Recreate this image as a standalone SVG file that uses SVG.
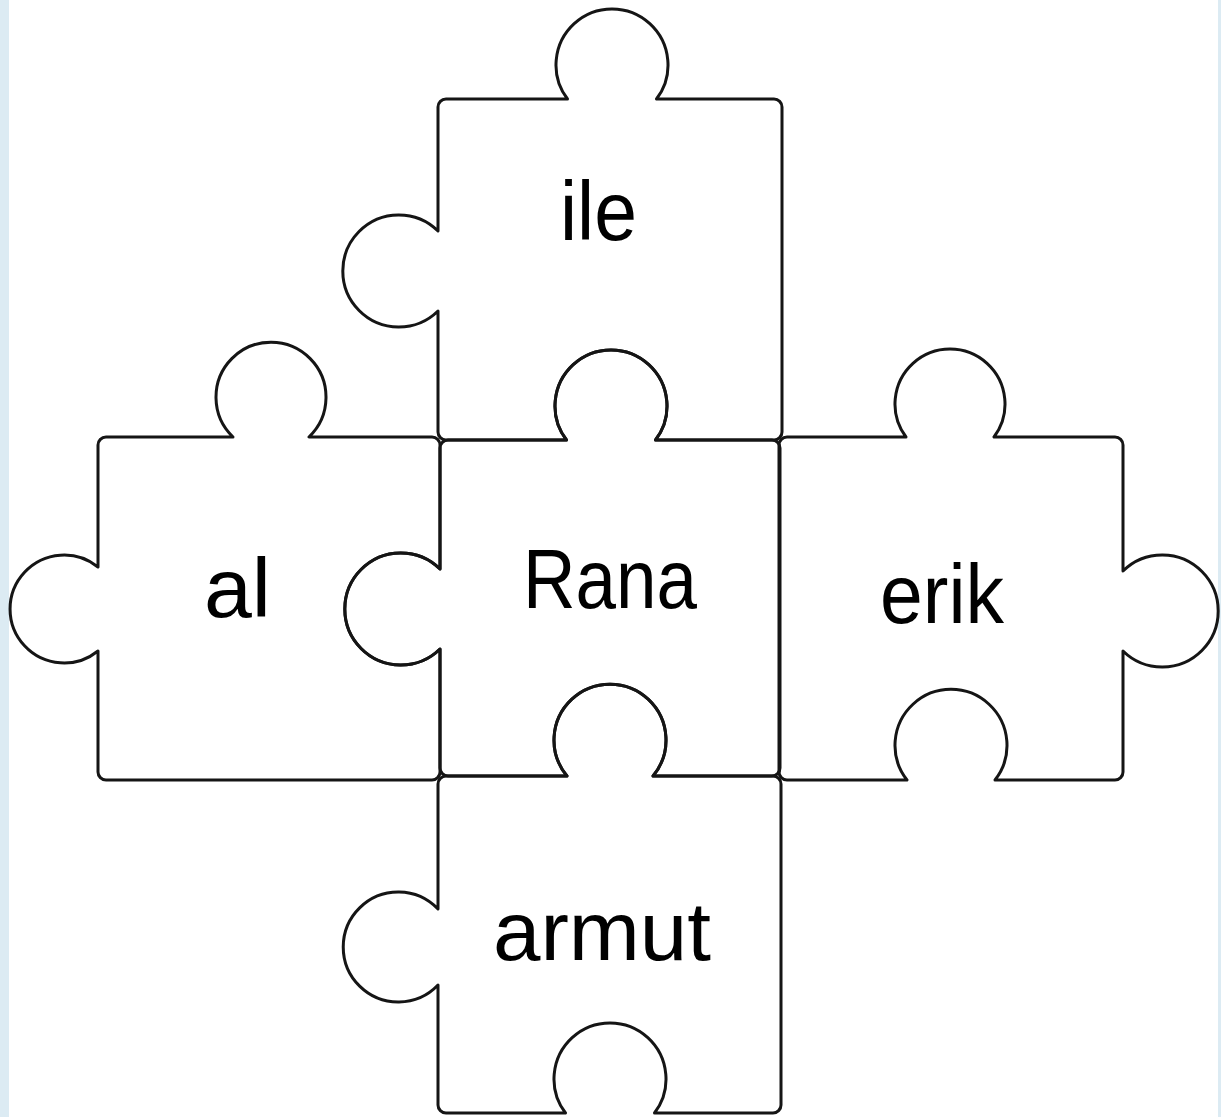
<svg xmlns="http://www.w3.org/2000/svg" width="1221" height="1117" viewBox="0 0 1221 1117">
<style>
.piece{fill:none;stroke:#151515;stroke-width:3;stroke-linejoin:round}
.word{font-family:"Liberation Sans",Arial,sans-serif;font-size:84px;fill:#000}
</style>
<rect x="0" y="0" width="1221" height="1117" fill="#ffffff"/>
<rect x="0" y="0" width="9" height="1117" fill="#dcebf3"/>
<rect x="1218" y="0" width="3" height="1117" fill="#dcebf3"/>
<g id="piece-ile">
<path class="piece" d="M438,107 A8,8 0 0 1 446,99 L567.5,99 A56,56 0 1 1 656.5,99 L774,99 A8,8 0 0 1 782,107 L782,432 A8,8 0 0 1 774,440 L655.5,440 A56,56 0 1 0 566.5,440 L446,440 A8,8 0 0 1 438,432 L438,311 A56,56 0 1 1 438,231 Z"/>
<text class="word" x="560" y="240" textLength="77" lengthAdjust="spacingAndGlyphs">ile</text>
</g>
<g id="piece-al">
<path class="piece" d="M98,445 A8,8 0 0 1 106,437 L233,437 A55,55 0 1 1 309,437 L432,437 A8,8 0 0 1 440,445 L440,569 A56,56 0 1 0 440,649 L440,772 A8,8 0 0 1 432,780 L106,780 A8,8 0 0 1 98,772 L98,651 A54,54 0 1 1 98,567 Z"/>
<text class="word" x="204" y="617" textLength="67" lengthAdjust="spacingAndGlyphs">al</text>
</g>
<g id="piece-rana">
<path class="piece" d="M440,448 A8,8 0 0 1 448,440 L566.5,440 A56,56 0 1 1 655.5,440 L772,440 A8,8 0 0 1 780,448 L780,768 A8,8 0 0 1 772,776 L653,776 A56,56 0 1 0 567,776 L448,776 A8,8 0 0 1 440,768 L440,649 A56,56 0 1 1 440,569 Z"/>
<text class="word" x="523" y="608" textLength="174" lengthAdjust="spacingAndGlyphs">Rana</text>
</g>
<g id="piece-erik">
<path class="piece" d="M779,445 A8,8 0 0 1 787,437 L906,437 A55,55 0 1 1 994,437 L1115,437 A8,8 0 0 1 1123,445 L1123,571 A56,56 0 1 1 1123,651 L1123,772 A8,8 0 0 1 1115,780 L995,780 A56,56 0 1 0 907,780 L787,780 A8,8 0 0 1 779,772 Z"/>
<text class="word" x="880" y="623" textLength="124" lengthAdjust="spacingAndGlyphs">erik</text>
</g>
<g id="piece-armut">
<path class="piece" d="M438,784 A8,8 0 0 1 446,776 L567,776 A56,56 0 1 1 653,776 L773,776 A8,8 0 0 1 781,784 L781,1105 A8,8 0 0 1 773,1113 L654.5,1113 A56,56 0 1 0 565.5,1113 L446,1113 A8,8 0 0 1 438,1105 L438,985 A55,55 0 1 1 438,909 Z"/>
<text class="word" x="493" y="960" textLength="218" lengthAdjust="spacingAndGlyphs">armut</text>
</g>
<g id="connectors"></g>
</svg>
